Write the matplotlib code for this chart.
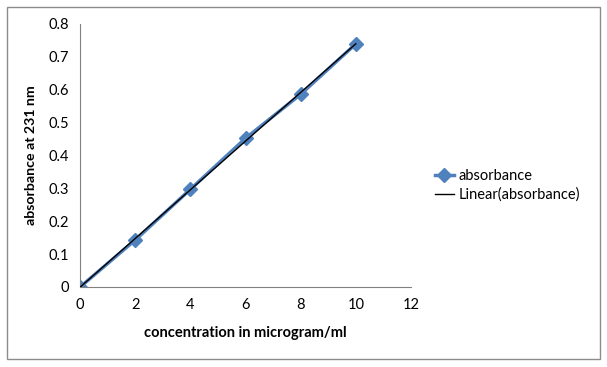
import matplotlib
matplotlib.use("Agg")
import matplotlib.pyplot as plt
import numpy as np
from matplotlib.patches import Rectangle

conc = [0, 2, 4, 6, 8, 10]
absorbance = [0.0, 0.143, 0.297, 0.452, 0.586, 0.739]
xticks = [0, 2, 4, 6, 8, 10, 12]
yticks = [0, 0.1, 0.2, 0.3, 0.4, 0.5, 0.6, 0.7, 0.8]
ytick_labels = ["0", "0.1", "0.2", "0.3", "0.4", "0.5", "0.6", "0.7", "0.8"]

plt.rcParams['font.family'] = ['Lato', 'DejaVu Sans']

fig = plt.figure(figsize=(6.07, 3.67), dpi=100)
ax = fig.add_axes([0.132, 0.218, 0.545, 0.717])

fig.patches.append(Rectangle((7/607, 1-359/367), (600-7)/607, (359-7)/367,
                             transform=fig.transFigure, fill=False,
                             edgecolor='#8c8c8c', linewidth=1.0))

ax.plot(conc, absorbance, color='#4f81bd', marker='D', markersize=7,
        linewidth=2.5, label='absorbance', zorder=2)
coef = np.polyfit(conc, absorbance, 1)
xs = np.array([conc[0], conc[-1]])
ax.plot(xs, np.polyval(coef, xs), color='black', linewidth=1.0,
        label='Linear(absorbance)', zorder=3)

ax.set_xlim(0, 12)
ax.set_ylim(0, 0.8)
ax.set_xticks(xticks)
ax.set_yticks(yticks)
ax.set_yticklabels(ytick_labels)
ax.tick_params(length=0, labelsize=10.5, pad=8)
for s in ['top', 'right']:
    ax.spines[s].set_visible(False)
for s in ['left', 'bottom']:
    ax.spines[s].set_color('#808080')
ax.set_xlabel('concentration in microgram/ml', fontsize=10.5, fontweight='bold', labelpad=10)
ax.set_ylabel('absorbance at 231 nm', fontsize=10.2, fontweight='bold', labelpad=8)

leg = fig.legend(loc='center left', bbox_to_anchor=(0.695, 0.495), frameon=False,
                 fontsize=10.5, handlelength=1.3, handletextpad=0.3, labelspacing=0.3)

fig.savefig('out.png', dpi=100)
